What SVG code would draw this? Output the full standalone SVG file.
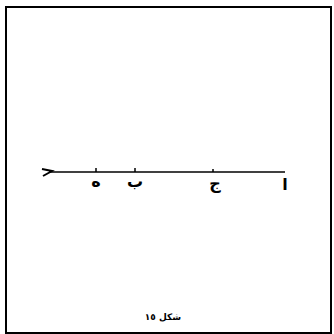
<svg xmlns="http://www.w3.org/2000/svg" width="334" height="334" viewBox="0 0 334 334">
<style>
.t{font-family:"DejaVu Sans","Noto Sans",sans-serif;font-size:16px;font-weight:bold;fill:#000;text-anchor:middle}
.ln{stroke:#000;fill:none;stroke-width:2}
</style>
<rect width="334" height="334" fill="#fff"/>
<rect x="6" y="7" width="325" height="326" class="ln"/>
<g id="connectors">
<line x1="50" y1="172" x2="285" y2="172" class="ln" style="stroke-width:1.6"/>
<polyline points="42,169 52,171 43,176" class="ln"/>
<line x1="96" y1="168" x2="96" y2="172" class="ln" style="stroke-width:1.5"/>
<line x1="135" y1="168" x2="135" y2="172" class="ln" style="stroke-width:1.5"/>
<line x1="213" y1="169" x2="213" y2="172" class="ln" style="stroke-width:1.5"/>
</g>
<g id="node-h"><text class="t" x="96" y="187">ه</text></g>
<g id="node-b"><text class="t" x="135" y="187">ب</text></g>
<g id="node-j"><text class="t" x="215" y="189">ج</text></g>
<g id="node-a"><text class="t" x="285" y="190">ا</text></g>
<g id="caption"><text class="t" x="163" y="320" style="font-size:9px">شكل ١٥</text></g>
</svg>
